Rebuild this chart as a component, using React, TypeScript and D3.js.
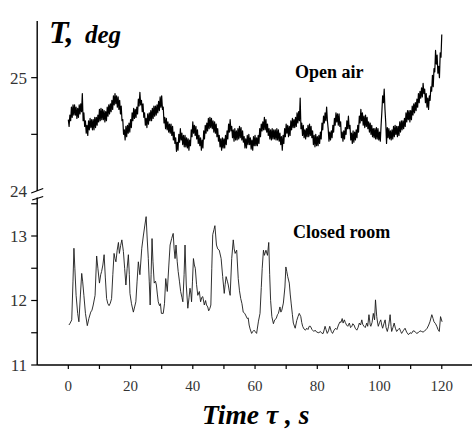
import React from "react";
import * as d3 from "d3";

// ---------- DATA ----------
const xTickLabels = [0, 20, 40, 60, 80, 100, 120];
const xMinorTicks = [10, 30, 50, 70, 90, 110];
const topTickLabels = [25];
const topBreakLabel = 24;
const topMinorTicks = [24.5];
const bottomTickLabels = [11, 12, 13];
const bottomMinorTicks = [11.5, 12.5, 13.5];

// Open air: sampled every 0.25 s from 0 to 120 s
const openAirStep = 0.25;
const openAirValues = [
  24.63, 24.57, 24.67, 24.62, 24.74, 24.65, 24.76, 24.67, 24.76, 24.67, 24.74, 24.64, 24.73, 24.65, 24.76, 24.68,
  24.77, 24.70, 24.86, 24.62, 24.69, 24.57, 24.62, 24.51, 24.58, 24.49, 24.62, 24.54, 24.64, 24.56, 24.63, 24.54,
  24.63, 24.54, 24.65, 24.56, 24.65, 24.58, 24.67, 24.61, 24.72, 24.62, 24.73, 24.63, 24.72, 24.63, 24.71, 24.61,
  24.70, 24.62, 24.74, 24.66, 24.76, 24.68, 24.77, 24.70, 24.80, 24.72, 24.84, 24.76, 24.86, 24.77, 24.84, 24.74,
  24.83, 24.72, 24.80, 24.68, 24.75, 24.62, 24.63, 24.50, 24.54, 24.45, 24.57, 24.48, 24.58, 24.51, 24.60, 24.52,
  24.63, 24.56, 24.69, 24.62, 24.73, 24.64, 24.72, 24.65, 24.74, 24.68, 24.81, 24.75, 24.87, 24.76, 24.80, 24.70,
  24.77, 24.65, 24.69, 24.58, 24.64, 24.56, 24.68, 24.59, 24.69, 24.62, 24.71, 24.62, 24.73, 24.64, 24.75, 24.66,
  24.75, 24.67, 24.76, 24.69, 24.79, 24.71, 24.83, 24.74, 24.84, 24.72, 24.74, 24.60, 24.65, 24.55, 24.64, 24.54,
  24.61, 24.52, 24.59, 24.51, 24.59, 24.49, 24.57, 24.45, 24.52, 24.42, 24.47, 24.35, 24.43, 24.36, 24.50, 24.43,
  24.55, 24.45, 24.51, 24.41, 24.49, 24.39, 24.49, 24.39, 24.47, 24.38, 24.46, 24.36, 24.45, 24.40, 24.54, 24.48,
  24.61, 24.51, 24.58, 24.49, 24.57, 24.46, 24.54, 24.42, 24.49, 24.40, 24.47, 24.36, 24.45, 24.38, 24.53, 24.46,
  24.58, 24.51, 24.60, 24.53, 24.64, 24.55, 24.65, 24.56, 24.64, 24.55, 24.62, 24.52, 24.61, 24.51, 24.59, 24.48,
  24.55, 24.44, 24.49, 24.39, 24.46, 24.36, 24.47, 24.38, 24.46, 24.38, 24.49, 24.41, 24.53, 24.46, 24.59, 24.52,
  24.63, 24.53, 24.57, 24.47, 24.54, 24.44, 24.55, 24.45, 24.53, 24.45, 24.55, 24.46, 24.57, 24.47, 24.56, 24.45,
  24.53, 24.43, 24.48, 24.38, 24.46, 24.38, 24.49, 24.41, 24.50, 24.41, 24.47, 24.37, 24.45, 24.36, 24.48, 24.40,
  24.49, 24.40, 24.47, 24.40, 24.49, 24.42, 24.55, 24.48, 24.59, 24.53, 24.61, 24.54, 24.65, 24.54, 24.63, 24.52,
  24.59, 24.49, 24.55, 24.46, 24.54, 24.45, 24.55, 24.46, 24.54, 24.46, 24.54, 24.45, 24.55, 24.45, 24.54, 24.44,
  24.51, 24.41, 24.48, 24.36, 24.49, 24.42, 24.55, 24.48, 24.59, 24.51, 24.58, 24.48, 24.57, 24.49, 24.62, 24.54,
  24.64, 24.56, 24.63, 24.56, 24.65, 24.57, 24.69, 24.60, 24.70, 24.62, 24.82, 24.55, 24.60, 24.49, 24.58, 24.47,
  24.54, 24.46, 24.55, 24.48, 24.58, 24.48, 24.59, 24.49, 24.57, 24.47, 24.53, 24.41, 24.49, 24.39, 24.50, 24.40,
  24.48, 24.40, 24.49, 24.42, 24.52, 24.46, 24.60, 24.54, 24.66, 24.60, 24.69, 24.62, 24.74, 24.62, 24.55, 24.44,
  24.52, 24.45, 24.53, 24.47, 24.58, 24.52, 24.64, 24.58, 24.69, 24.61, 24.68, 24.58, 24.68, 24.57, 24.61, 24.47,
  24.52, 24.44, 24.53, 24.46, 24.56, 24.50, 24.62, 24.55, 24.66, 24.55, 24.58, 24.45, 24.51, 24.42, 24.53, 24.43,
  24.52, 24.45, 24.54, 24.47, 24.58, 24.52, 24.66, 24.60, 24.72, 24.62, 24.69, 24.58, 24.66, 24.56, 24.67, 24.57,
  24.65, 24.55, 24.61, 24.52, 24.60, 24.50, 24.58, 24.48, 24.55, 24.47, 24.55, 24.46, 24.56, 24.46, 24.55, 24.45,
  24.52, 24.44, 24.58, 24.70, 24.84, 24.78, 24.90, 24.72, 24.60, 24.42, 24.56, 24.47, 24.55, 24.46, 24.53, 24.45,
  24.54, 24.46, 24.57, 24.48, 24.58, 24.50, 24.57, 24.48, 24.57, 24.49, 24.61, 24.52, 24.62, 24.54, 24.62, 24.55,
  24.64, 24.57, 24.69, 24.61, 24.71, 24.63, 24.71, 24.61, 24.71, 24.63, 24.75, 24.67, 24.77, 24.69, 24.78, 24.71,
  24.81, 24.74, 24.86, 24.78, 24.88, 24.82, 24.91, 24.83, 24.95, 24.86, 24.90, 24.78, 24.86, 24.74, 24.82, 24.72,
  24.84, 24.80, 24.92, 24.88, 25.02, 24.92, 25.08, 25.05, 25.24, 25.12, 25.20, 25.04, 25.10, 25.00, 25.22, 25.18,
  25.38,
];

// Closed room: time (s) and temperature
const closedTimes = [
  0.2, 0.6, 1.1, 1.5, 1.8, 2.1, 2.5, 3.0, 3.4, 3.9, 4.3, 4.6, 5.0, 5.5, 6.1, 6.6, 7.2, 7.6, 8.0, 8.6,
  9.1, 9.5, 10.0, 10.4, 10.7, 11.1, 11.5, 11.9, 12.3, 12.7, 13.1, 13.5, 13.9, 14.3, 14.7, 15.0, 15.3, 15.7, 16.1, 16.4,
  16.8, 17.2, 17.7, 18.1, 18.5, 18.9, 19.3, 19.6, 19.8, 20.3, 20.9, 21.3, 21.7, 22.1, 22.5, 23.0, 23.6, 24.1, 24.6, 25.0,
  25.3, 25.7, 26.0, 26.3, 26.6, 26.9, 27.2, 27.6, 28.0, 28.3, 28.6, 28.9, 29.3, 29.6, 29.9, 30.5, 30.9, 31.3, 31.8, 32.3,
  32.7, 33.2, 33.7, 34.0, 34.3, 34.6, 35.0, 35.3, 35.7, 36.1, 36.5, 36.8, 37.2, 37.5, 37.9, 38.4, 38.8, 39.1, 39.4, 39.6,
  39.9, 40.2, 40.5, 40.8, 41.2, 41.6, 42.1, 42.5, 42.9, 43.2, 43.7, 44.1, 44.4, 44.8, 45.1, 45.5, 45.8, 46.1, 46.4, 46.8,
  47.1, 47.6, 48.0, 48.5, 49.1, 49.6, 50.1, 50.4, 50.7, 51.1, 51.4, 51.7, 52.0, 52.5, 53.0, 53.3, 53.6, 54.1, 54.6, 55.0,
  55.4, 55.8, 56.2, 56.7, 57.1, 57.5, 57.8, 58.1, 58.4, 58.9, 59.3, 59.7, 60.0, 60.5, 61.1, 61.6, 62.0, 62.3, 62.7, 63.0,
  63.5, 64.0, 64.4, 64.7, 65.0, 65.4, 65.9, 66.3, 66.8, 67.2, 67.5, 68.0, 68.3, 68.6, 69.1, 69.6, 69.9, 70.2, 70.5, 71.0,
  71.3, 71.6, 72.0, 72.3, 72.9, 73.4, 73.8, 74.2, 74.7, 75.0, 75.3, 75.7, 76.2, 76.6, 77.0, 77.4, 77.8, 78.3, 78.9, 79.3,
  79.8, 80.5, 81.0, 81.5, 81.9, 82.5, 82.8, 83.2, 83.6, 84.0, 84.5, 84.9, 85.4, 85.9, 86.3, 86.8, 87.3, 87.6, 88.0, 88.3,
  88.7, 89.0, 89.4, 89.8, 90.3, 90.7, 91.1, 91.4, 91.8, 92.2, 92.7, 93.1, 93.5, 93.9, 94.3, 94.6, 95.0, 95.4, 95.9, 96.2,
  96.6, 97.0, 97.2, 97.6, 98.0, 98.4, 98.7, 99.1, 99.4, 99.6, 100.0, 100.4, 100.7, 101.0, 101.4, 101.8, 102.1, 102.5, 102.9, 103.2,
  103.4, 103.7, 103.9, 104.3, 104.7, 105.1, 105.5, 106.0, 106.4, 106.8, 107.1, 107.6, 108.2, 108.7, 109.3, 109.8, 110.3, 110.8, 111.4, 111.9,
  112.4, 113.0, 113.5, 114.0, 114.5, 115.0, 115.3, 115.8, 116.2, 116.8, 117.2, 117.5, 118.0, 118.4, 118.8, 119.2, 119.6, 120.1,
];
const closedValues = [
  11.62, 11.65, 11.70, 12.30, 12.81, 12.50, 12.08, 11.80, 11.67, 12.10, 12.42, 12.30, 12.08, 11.80, 11.61, 11.72, 11.82, 11.85, 11.93, 12.08,
  12.69, 12.50, 12.27, 12.40, 12.45, 12.55, 12.71, 12.35, 12.03, 11.95, 11.92, 11.96, 12.03, 12.40, 12.73, 12.65, 12.60, 12.78, 12.90, 12.73,
  12.85, 12.94, 12.76, 12.50, 12.24, 12.50, 12.71, 12.40, 12.11, 11.95, 11.82, 11.90, 11.98, 12.30, 12.60, 12.40, 12.81, 13.00, 13.17, 13.30,
  13.00, 12.65, 12.30, 11.93, 12.40, 12.96, 12.60, 12.27, 12.30, 12.24, 12.10, 11.98, 11.92, 11.95, 11.80, 11.80, 11.95, 12.34, 12.14, 12.55,
  12.86, 12.96, 13.04, 12.80, 12.65, 12.86, 12.60, 12.45, 12.30, 12.14, 12.05, 11.98, 12.40, 12.86, 12.24, 11.88, 12.05, 12.19, 12.10, 11.98,
  12.30, 12.65, 12.55, 12.50, 12.25, 12.08, 12.14, 11.98, 12.05, 12.06, 11.93, 12.00, 11.93, 11.90, 11.84, 11.88, 11.93, 12.50, 13.02, 13.10,
  13.16, 12.86, 12.80, 12.78, 12.65, 12.37, 12.11, 12.25, 12.37, 12.30, 12.24, 12.15, 12.08, 12.65, 12.94, 12.80, 12.73, 12.78, 12.34, 12.15,
  12.03, 11.95, 11.82, 11.80, 11.76, 11.72, 11.73, 11.62, 11.56, 11.49, 11.52, 11.54, 11.52, 11.49, 11.68, 11.80, 12.20, 12.50, 12.78, 12.70,
  12.78, 12.70, 12.90, 12.40, 12.00, 11.75, 11.64, 11.70, 11.72, 11.78, 11.80, 11.90, 11.82, 11.85, 11.96, 12.21, 12.52, 12.45, 12.37, 12.27,
  12.10, 11.96, 11.78, 11.65, 11.57, 11.69, 11.75, 11.80, 11.75, 11.66, 11.60, 11.56, 11.54, 11.57, 11.55, 11.60, 11.60, 11.55, 11.52, 11.54,
  11.51, 11.50, 11.52, 11.49, 11.49, 11.60, 11.55, 11.49, 11.53, 11.60, 11.52, 11.49, 11.54, 11.57, 11.55, 11.62, 11.67, 11.66, 11.72, 11.65,
  11.70, 11.66, 11.62, 11.60, 11.65, 11.58, 11.60, 11.64, 11.62, 11.57, 11.54, 11.58, 11.65, 11.62, 11.70, 11.63, 11.60, 11.58, 11.65, 11.60,
  11.78, 11.62, 11.60, 11.66, 11.80, 11.70, 12.01, 11.75, 11.65, 11.60, 11.66, 11.70, 11.62, 11.57, 11.64, 11.70, 11.58, 11.52, 11.60, 11.70,
  11.78, 11.60, 11.52, 11.58, 11.65, 11.57, 11.52, 11.55, 11.57, 11.52, 11.49, 11.53, 11.57, 11.51, 11.47, 11.50, 11.49, 11.53, 11.52, 11.49,
  11.50, 11.53, 11.52, 11.51, 11.53, 11.55, 11.57, 11.62, 11.67, 11.78, 11.72, 11.67, 11.64, 11.60, 11.55, 11.52, 11.75, 11.67,
];

const titleMain = "T,";
const titleUnit = "deg";
const xTitle = "Time τ , s";
const openLabel = "Open air";
const closedLabel = "Closed room";

// ---------- CHART ----------
export default function App() {
  const W = 472;
  const H = 432;
  const axisX = 37.2;
  const axisY = 365;
  const breakTop = 191;
  const breakBottom = 197.5;

  const x = d3.scaleLinear().domain([-10, 130]).range([axisX, 472.9]);
  const yTop = d3.scaleLinear().domain([24, 25.5]).range([breakTop, 21]);
  const yBot = d3.scaleLinear().domain([11, 13.6]).range([axisY, 197.3]);

  const openData = openAirValues.map((v, i) => [i * openAirStep, v] as [number, number]);
  const closedData = closedTimes.map((t, i) => [t, closedValues[i]] as [number, number]);

  const openLine = d3
    .line<[number, number]>()
    .x((d) => x(d[0]))
    .y((d) => yTop(d[1]))(openData) as string;
  const closedLine = d3
    .line<[number, number]>()
    .x((d) => x(d[0]))
    .y((d) => yBot(d[1]))(closedData) as string;

  const serifStyle = { fontFamily: '"Liberation Serif"' };
  const tickLen = 6;
  const axisColor = "#000";
  const labelColor = "#333";

  return (
    <svg
      width={W}
      height={H}
      style={{ position: "absolute", left: 0, top: 0, background: "#fff" }}
    >
      {/* data lines */}
      <path d={openLine} fill="none" stroke="#000" strokeWidth={1.2} strokeLinejoin="round" />
      <path d={closedLine} fill="none" stroke="#1a1a1a" strokeWidth={0.9} strokeLinejoin="round" />

      {/* y axis: top segment */}
      <line x1={axisX} x2={axisX} y1={yTop(25.5)} y2={breakTop} stroke={axisColor} strokeWidth={1.4} />
      {/* y axis: bottom segment */}
      <line x1={axisX} x2={axisX} y1={breakBottom} y2={axisY} stroke={axisColor} strokeWidth={1.4} />
      {/* break marks */}
      <line x1={axisX - 6} x2={axisX + 6} y1={breakTop + 2} y2={breakTop - 2.5} stroke={axisColor} strokeWidth={1.3} />
      <line x1={axisX - 5} x2={axisX + 6} y1={breakBottom + 2.5} y2={breakBottom - 1} stroke={axisColor} strokeWidth={1.3} />

      {/* top ticks */}
      {topTickLabels.concat(topMinorTicks).map((v) => (
        <line key={"tt" + v} x1={axisX - tickLen} x2={axisX} y1={yTop(v)} y2={yTop(v)} stroke={axisColor} strokeWidth={1.2} />
      ))}
      {topTickLabels.map((v) => (
        <text key={"tl" + v} x={27} y={yTop(v)} dy="0.35em" textAnchor="end" fontSize={17} fill={labelColor} style={serifStyle}>
          {v}
        </text>
      ))}
      <text x={27} y={breakTop} dy="0.35em" textAnchor="end" fontSize={17} fill={labelColor} style={serifStyle}>
        {topBreakLabel}
      </text>

      {/* bottom ticks */}
      {bottomTickLabels.concat(bottomMinorTicks).map((v) => (
        <line key={"bt" + v} x1={axisX - tickLen} x2={axisX} y1={yBot(v)} y2={yBot(v)} stroke={axisColor} strokeWidth={1.2} />
      ))}
      {bottomTickLabels.map((v) => (
        <text key={"bl" + v} x={27} y={yBot(v)} dy="0.35em" textAnchor="end" fontSize={17} fill={labelColor} style={serifStyle}>
          {v}
        </text>
      ))}

      {/* x axis */}
      <line x1={axisX} x2={W} y1={axisY} y2={axisY} stroke={axisColor} strokeWidth={1.4} />
      {xTickLabels.concat(xMinorTicks).map((v) => (
        <line key={"xt" + v} x1={x(v)} x2={x(v)} y1={axisY} y2={axisY + 4} stroke={axisColor} strokeWidth={1.2} />
      ))}
      {xTickLabels.map((v) => (
        <text key={"xl" + v} x={x(v)} y={390.5} textAnchor="middle" fontSize={15} fill={labelColor} style={serifStyle}>
          {v}
        </text>
      ))}

      {/* titles */}
      <text x={49} y={43} fontWeight="bold" fontStyle="italic" fontSize={32} fill="#000" style={serifStyle}>
        {titleMain}
      </text>
      <text x={85} y={43} fontWeight="bold" fontStyle="italic" fontSize={25} fill="#000" style={serifStyle}>
        {titleUnit}
      </text>
      <text x={202} y={424} fontWeight="bold" fontStyle="italic" fontSize={27.5} fill="#000" style={serifStyle}>
        {xTitle}
      </text>

      {/* series labels */}
      <text x={295} y={78} fontWeight="bold" fontSize={18} fill="#000" style={serifStyle}>
        {openLabel}
      </text>
      <text x={293} y={238} fontWeight="bold" fontSize={18} fill="#000" style={serifStyle}>
        {closedLabel}
      </text>
    </svg>
  );
}
